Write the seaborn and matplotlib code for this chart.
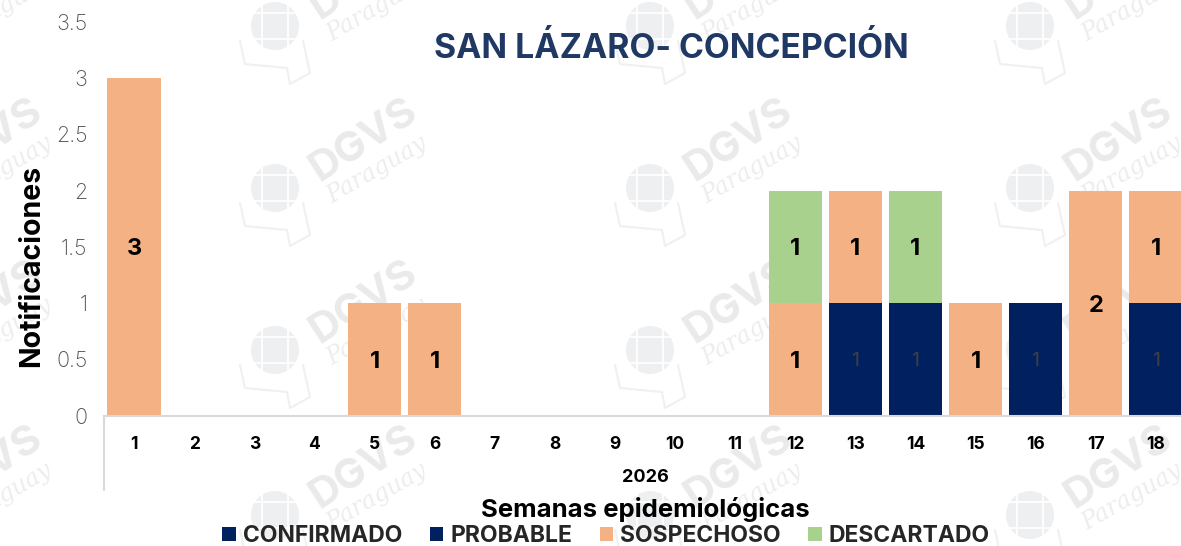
import pandas as pd
import matplotlib.pyplot as plt
import matplotlib.patches as mpatches
import seaborn as sns

# data
semanas = [str(i) for i in range(1, 19)]
confirmado = [0, 0, 0, 0, 0, 0, 0, 0, 0, 0, 0, 0, 1, 1, 0, 1, 0, 1]
probable = [0] * 18
sospechoso = [3, 0, 0, 0, 1, 1, 0, 0, 0, 0, 0, 1, 1, 0, 1, 0, 2, 1]
descartado = [0, 0, 0, 0, 0, 0, 0, 0, 0, 0, 0, 1, 0, 1, 0, 0, 0, 0]
yticks = [0, 0.5, 1, 1.5, 2, 2.5, 3, 3.5]
ylabels = ['0', '0.5', '1', '1.5', '2', '2.5', '3', '3.5']
anio = '2026'

W, H = 1181, 546
sns.set_theme(style='white')
plt.rcParams['font.family'] = ['Inter', 'DejaVu Sans']

df = pd.DataFrame({'semana': semanas, 'CONFIRMADO': confirmado, 'PROBABLE': probable,
                   'SOSPECHOSO': sospechoso, 'DESCARTADO': descartado})
colores = {'CONFIRMADO': '#002060', 'PROBABLE': '#002060',
           'SOSPECHOSO': '#F4B183', 'DESCARTADO': '#A9D18E'}

fig = plt.figure(figsize=(W / 100, H / 100), dpi=100)
ax = fig.add_axes([104 / W, 1 - 415.5 / H, (W - 104) / W, (415.5 - 22) / H])
ax.patch.set_alpha(0)


def px(x, y):
    return x / W, 1 - y / H


# watermark, repeated over the whole figure
gris = '#EAEAEA'
contorno = [(-35, -15), (-30, -38), (12, -42), (15, -58), (35, -47), (28, -15)]
for gx in [-100, 275, 650, 1030]:
    for gy in [26, 188, 350, 515]:
        cx, cy = gx, H - gy
        fig.add_artist(mpatches.Circle((cx, cy), 24, transform=None, fc='#EEEFF0', ec='none', zorder=-3))
        for d in [-13, 13]:
            fig.add_artist(plt.Line2D([cx + d, cx + d], [cy - 24, cy + 24], transform=None, color='white', lw=1.3, zorder=-2))
            fig.add_artist(plt.Line2D([cx - 24, cx + 24], [cy + d, cy + d], transform=None, color='white', lw=1.3, zorder=-2))
        fig.add_artist(plt.Line2D([cx + a for a, b in contorno], [cy + b for a, b in contorno], transform=None,
                                  color='#F0F0F0', lw=1.5, zorder=-3))
        x0, y0 = px(gx + 88, gy - 48)
        fig.text(x0, y0, 'DGVS', color=gris, fontsize=30, fontweight='bold', rotation=33,
                 ha='center', va='center', zorder=-3)
        x0, y0 = px(gx + 102, gy - 18)
        fig.text(x0, y0, 'Paraguay', color='#EDEDED', fontsize=17, style='italic', rotation=30,
                 ha='center', va='center', zorder=-3, family='DejaVu Serif')

# stacked bars
base = pd.Series([0] * len(df))
for estado, color in colores.items():
    n = len(ax.containers)
    sns.barplot(data=df, x='semana', y=estado, order=semanas, color=color, saturation=1,
                width=0.885, errorbar=None, bottom=base.values, label=estado, ax=ax,
                edgecolor='none', legend=False)
    cont = ax.containers[n]
    for rect, v in zip(cont, df[estado]):
        if v > 0:
            claro = color != '#002060'
            ax.text(rect.get_x() + rect.get_width() / 2, rect.get_y() + rect.get_height() / 2, str(v),
                    ha='center', va='center_baseline', fontsize=17 if claro else 14,
                    fontweight='bold' if claro else 'normal',
                    color='black' if claro else '#404040')
    base = base + df[estado]

ax.set_xlim(-0.5, 17.42)
ax.set_ylim(0, 3.5)
ax.set_yticks(yticks, ylabels, fontsize=15.5, color='#505050', fontweight='light')
ax.tick_params(axis='y', length=0, pad=12)
ax.tick_params(axis='x', length=0, pad=15)
for lab in ax.get_xticklabels():
    lab.set_fontsize(12.5)
    lab.set_fontweight('bold')
    lab.set_color('black')
ax.set_xlabel('')
ax.set_ylabel('')
for s in ['top', 'right', 'left']:
    ax.spines[s].set_visible(False)
ax.spines['bottom'].set_color('#D9D9D9')
ax.spines['bottom'].set_linewidth(1.5)

# second level of the category axis
fig.add_artist(plt.Line2D([104 / W, 104 / W], [1 - 415.5 / H, 1 - 490 / H], color='#D9D9D9', lw=1.5))
x0, y0 = px(645, 477)
fig.text(x0, y0, anio, fontsize=13, fontweight='bold', color='black', ha='center', va='center')

x0, y0 = px(645, 510)
fig.text(x0, y0, 'Semanas epidemiológicas', fontsize=18.5, fontweight='bold', color='black', ha='center', va='center')
x0, y0 = px(32, 266)
fig.text(x0, y0, 'Notificaciones', fontsize=20.5, fontweight='bold', color='black', rotation=90, ha='center', va='center')
x0, y0 = px(671, 49)
fig.text(x0, y0, 'SAN LÁZARO- CONCEPCIÓN', fontsize=24.3, fontweight='bold', color='#1F3864', ha='center', va='center')

h, l = ax.get_legend_handles_labels()
fig.legend(h, l, ncol=4, loc='center', bbox_to_anchor=px(606, 536), frameon=False,
           prop={'size': 16.5, 'weight': 'bold'}, handlelength=0.6, handleheight=0.6,
           handletextpad=0.3, columnspacing=1.2, borderpad=0)

fig.savefig('out.png', dpi=100)
